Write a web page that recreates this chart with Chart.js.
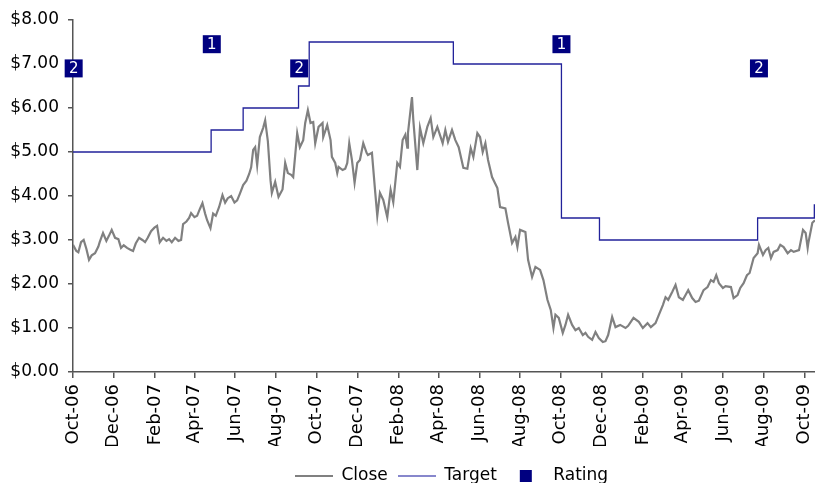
<!DOCTYPE html>
<html><head><meta charset="utf-8">
<script src="https://cdn.jsdelivr.net/npm/chart.js@4.4.0/dist/chart.umd.min.js"></script>
<style>html,body{margin:0;padding:0;background:#fff}#wrap{width:815px;height:483px;position:relative}</style>
</head><body><div id="wrap"><canvas id="c"></canvas></div>
<script>
// x unit: days since 1 Oct 2006
const tickDays = [0,61,123,182,243,304,365,426,488,548,609,670,731,792,854,913,974,1035,1096];
const tickLabels = ['Oct-06','Dec-06','Feb-07','Apr-07','Jun-07','Aug-07','Oct-07','Dec-07','Feb-08','Apr-08','Jun-08','Aug-08','Oct-08','Dec-08','Feb-09','Apr-09','Jun-09','Aug-09','Oct-09'];
const yTicks = [0,1,2,3,4,5,6,7,8];

const closeDays = [
 0,5,8,12,16,20,24,28,33,38,
 40,45,50,54,58,63,68,72,76,81,
 86,90,94,99,104,108,112,117,122,126,
 130,135,140,144,148,153,158,162,165,170,
 174,177,182,186,190,194,198,201,206,210,
 214,219,224,228,232,237,242,246,250,255,
 260,264,267,270,273,276,280,285,288,292,
 296,298,303,308,314,318,322,327,330,336,
 340,345,348,352,356,360,363,368,374,375,
 381,386,388,393,396,398,404,408,411,414,
 418,422,426,430,435,440,442,448,453,456,
 460,465,471,476,480,486,490,494,498,501,
 502,508,510,516,520,525,531,536,540,546,
 554,558,562,568,573,578,585,591,596,600,
 606,610,614,618,622,628,636,640,648,652,
 658,663,666,670,678,682,688,693,700,705,
 711,716,720,723,728,734,738,742,748,753,
 758,764,768,772,778,783,788,794,798,802,
 808,813,820,828,832,840,848,854,861,866,
 873,878,884,888,892,898,903,908,914,918,
 922,928,933,938,945,951,956,960,964,968,
 974,978,986,990,996,1000,1005,1010,1014,1020,
 1026,1028,1034,1038,1042,1046,1050,1056,1060,1065,
 1071,1076,1080,1088,1094,1098,1101,1102,1108,1112];
const closeValues = [
 2.89,2.75,2.72,2.95,3.0,2.8,2.55,2.65,2.7,2.85,
 2.95,3.16,2.98,3.1,3.23,3.05,3.02,2.82,2.88,2.82,
 2.78,2.75,2.92,3.05,3.0,2.95,3.05,3.2,3.28,3.32,
 2.95,3.05,2.98,3.02,2.95,3.05,2.98,3.0,3.36,3.42,
 3.5,3.61,3.52,3.55,3.7,3.84,3.6,3.45,3.27,3.6,
 3.55,3.75,4.02,3.85,3.95,4.0,3.85,3.9,4.05,4.25,
 4.35,4.5,4.65,5.05,5.11,4.7,5.34,5.55,5.72,5.25,
 4.36,4.07,4.32,3.98,4.15,4.75,4.52,4.48,4.43,5.43,
 5.11,5.27,5.66,5.95,5.66,5.68,5.2,5.57,5.66,5.34,
 5.61,5.27,4.89,4.75,4.52,4.66,4.59,4.62,4.75,5.2,
 4.82,4.3,4.75,4.82,5.2,4.98,4.93,4.98,4.07,3.55,
 4.07,3.91,3.52,4.14,3.86,4.75,4.66,5.27,5.39,5.1,
 5.43,6.25,5.73,4.59,5.55,5.2,5.57,5.77,5.34,5.57,
 5.2,5.5,5.23,5.5,5.27,5.11,4.64,4.62,5.09,4.89,
 5.43,5.34,5.0,5.2,4.82,4.43,4.18,3.75,3.72,3.39,
 2.93,3.07,2.84,3.23,3.18,2.55,2.16,2.39,2.32,2.09,
 1.64,1.41,1.0,1.3,1.23,0.89,1.07,1.3,1.07,0.95,
 1.0,0.84,0.89,0.8,0.73,0.91,0.77,0.68,0.7,0.84,
 1.25,1.02,1.07,1.0,1.05,1.23,1.14,1.0,1.11,1.02,
 1.11,1.3,1.52,1.7,1.64,1.82,1.98,1.7,1.64,1.75,
 1.86,1.68,1.59,1.62,1.86,1.93,2.09,2.05,2.2,2.02,
 1.91,1.95,1.93,1.68,1.75,1.91,2.02,2.2,2.25,2.59,
 2.7,2.89,2.66,2.77,2.82,2.59,2.73,2.77,2.89,2.84,
 2.7,2.77,2.73,2.77,3.23,3.16,2.82,2.93,3.39,3.45];

const targetDays = [0,207,255,338,354,570,732,789,1026,1111,1112];
const targetValues = [5.0,5.5,6.0,6.5,7.5,7.0,3.5,3.0,3.5,3.8,3.8];

const ratingDays = [1,208,339,732,1028];
const ratingValues = [6.9,7.45,6.9,7.45,6.9];
const ratingLabels = ['2','1','2','1','2'];

const FONT = '"DejaVu Sans", sans-serif';
const AXIS = '#555';

function lineIcon(color, h){
  const c = document.createElement('canvas'); c.width = 38; c.height = 4;
  const g = c.getContext('2d'); g.fillStyle = color; g.fillRect(0, (4-h)/2, 38, h); return c;
}
function squareIcon(color){
  const c = document.createElement('canvas'); c.width = 38; c.height = 12;
  const g = c.getContext('2d'); g.fillStyle = color; g.fillRect(13, 0, 12, 12); return c;
}

const ratingLabelPlugin = {
  id: 'ratingLabels',
  afterDatasetsDraw(chart){
    const meta = chart.getDatasetMeta(2);
    const ctx = chart.ctx;
    ctx.save();
    ctx.fillStyle = '#fff';
    ctx.font = '15px ' + FONT;
    ctx.textAlign = 'center';
    ctx.textBaseline = 'middle';
    meta.data.forEach((pt, i) => ctx.fillText(ratingLabels[i], pt.x, pt.y + 1));
    ctx.restore();
  }
};
const legendShift = {
  id: 'legendShift',
  afterLayout(chart){
    const l = chart.legend;
    l.left += 44; l.right += 44; l.top += 11.5; l.bottom += 11.5;
  }
};

new Chart(document.getElementById('c'), {
  type: 'line',
  data: {
    datasets: [
      { label: 'Close', data: closeDays.map((d,i)=>({x:d, y:closeValues[i]})),
        borderColor: '#808080', borderWidth: 2.2, pointRadius: 0, tension: 0 },
      { label: 'Target', data: targetDays.map((d,i)=>({x:d, y:targetValues[i]})),
        borderColor: '#22229a', borderWidth: 1.3, pointRadius: 0, stepped: true },
      { label: 'Rating', data: ratingDays.map((d,i)=>({x:d, y:ratingValues[i]})),
        showLine: false, pointStyle: 'rect', pointRadius: 12.73, pointBorderWidth: 0,
        backgroundColor: '#000080', borderColor: '#000080', clip: false }
    ]
  },
  options: {
    responsive: true, maintainAspectRatio: false, animation: false,
    layout: { autoPadding: false, padding: { top: 20, left: 0, right: 0, bottom: 0 } },
    plugins: {
      tooltip: { enabled: false },
      legend: {
        position: 'bottom',
        labels: {
          usePointStyle: true, pointStyleWidth: 38, padding: 10,
          font: { family: FONT, size: 17 }, color: '#000',
          generateLabels(chart){
            return [
              { text: 'Close', pointStyle: lineIcon('#808080', 2), datasetIndex: 0, fontColor: '#000', lineWidth: 0, strokeStyle: 'transparent', fillStyle: 'transparent' },
              { text: 'Target', pointStyle: lineIcon('#6a6ac0', 1.6), datasetIndex: 1, fontColor: '#000', lineWidth: 0, strokeStyle: 'transparent', fillStyle: 'transparent' },
              { text: 'Rating', pointStyle: squareIcon('#000080'), datasetIndex: 2, fontColor: '#000', lineWidth: 0, strokeStyle: 'transparent', fillStyle: 'transparent' }
            ];
          }
        }
      }
    },
    scales: {
      x: {
        type: 'linear', min: 0, max: 1112,
        afterBuildTicks(scale){ scale.ticks = tickDays.map(v => ({value: v})); },
        afterFit(scale){ scale.height = 74; scale.paddingLeft = 0; scale.paddingRight = 0; },
        grid: { display: true, drawOnChartArea: false, drawTicks: true, tickLength: 6, color: AXIS, lineWidth: 1.5 },
        border: { display: true, color: AXIS, width: 1.5 },
        ticks: {
          autoSkip: false, maxRotation: 90, minRotation: 90, padding: 6,
          font: { family: FONT, size: 18 }, color: '#000',
          callback(v){ const i = tickDays.indexOf(v); return i >= 0 ? tickLabels[i] : ''; }
        }
      },
      y: {
        min: 0, max: 8,
        afterBuildTicks(scale){ scale.ticks = yTicks.map(v => ({value: v})); },
        afterFit(scale){ scale.width = 73; scale.paddingTop = 0; scale.paddingBottom = 0; },
        grid: { display: true, drawOnChartArea: false, drawTicks: true, tickLength: 5, color: AXIS, lineWidth: 1.5 },
        border: { display: true, color: AXIS, width: 1.5 },
        ticks: {
          padding: 9, font: { family: FONT, size: 17 }, color: '#000',
          callback(v){ return '$' + Number(v).toFixed(2); }
        }
      }
    }
  },
  plugins: [ratingLabelPlugin, legendShift]
});
</script>
</body></html>
